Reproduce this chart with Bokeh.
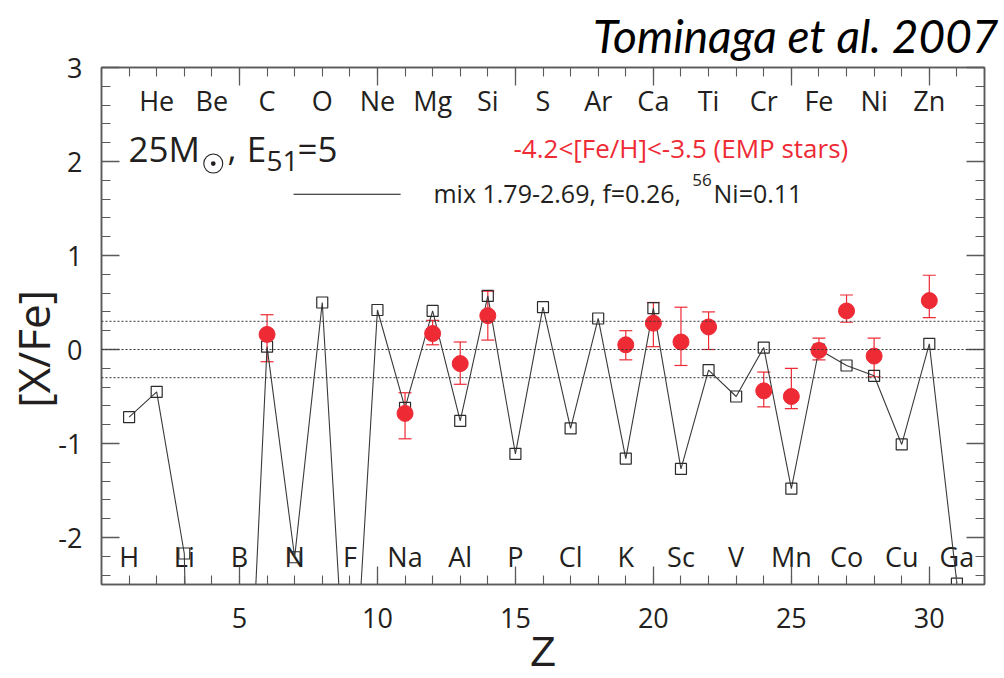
import numpy as np
from bokeh.plotting import figure
from bokeh.models import (ColumnDataSource, Range1d, LinearAxis, FixedTicker,
                          Span, Whisker, TeeHead, Label, Title)
from bokeh.embed import file_html
from bokeh.resources import INLINE

# ---- data -------------------------------------------------------------
symbols = ["H", "He", "Li", "Be", "B", "C", "N", "O", "F", "Ne", "Na", "Mg",
           "Al", "Si", "P", "S", "Cl", "Ar", "K", "Ca", "Sc", "Ti", "V", "Cr",
           "Mn", "Fe", "Co", "Ni", "Cu", "Zn", "Ga"]
atomic_z = list(range(1, 32))

# model yields [X/Fe] (mix 1.79-2.69, f=0.26, 56Ni=0.11)
model_xfe = [-0.72, -0.45, -2.17, -15.0, -6.2, 0.03, -2.21, 0.50, -4.5, 0.42,
             -0.62, 0.41, -0.76, 0.57, -1.11, 0.45, -0.84, 0.33, -1.16, 0.44,
             -1.27, -0.22, -0.50, 0.02, -1.48, 0.00, -0.17, -0.28, -1.01, 0.06,
             -2.49]

# EMP stars, -4.2 < [Fe/H] < -3.5
star_z = [6, 11, 12, 13, 14, 19, 20, 21, 22, 24, 25, 26, 27, 28, 30]
star_xfe = [0.16, -0.68, 0.17, -0.15, 0.36, 0.05, 0.28, 0.08, 0.24, -0.44,
            -0.50, -0.01, 0.41, -0.07, 0.52]
star_hi = [0.37, -0.46, 0.31, 0.08, 0.62, 0.20, 0.50, 0.45, 0.40, -0.24,
           -0.20, 0.12, 0.58, 0.12, 0.79]
star_lo = [-0.13, -0.95, 0.05, -0.37, 0.10, -0.11, 0.03, -0.17, 0.00, -0.61,
           -0.63, -0.11, 0.29, -0.29, 0.34]

x_ticks = [5, 10, 15, 20, 25, 30]
y_ticks = [-2, -1, 0, 1, 2, 3]
ref_levels = [-0.3, 0.0, 0.3]

# ---- styling ----------------------------------------------------------
INK = "#231f20"
RED = "#ee2a35"
AXIS = "#5a5a5a"
FONT = "Open Sans"
NBSP = "\u00a0"

p = figure(width=1004, height=678,
           x_range=Range1d(0, 32), y_range=Range1d(-2.5, 3),
           output_backend="svg", toolbar_location=None,
           min_border_left=101, min_border_right=20,
           min_border_top=66, min_border_bottom=94)
p.grid.visible = False
p.outline_line_color = AXIS
p.outline_line_width = 1.5
p.background_fill_color = "white"
p.border_fill_color = "white"

xt = FixedTicker(ticks=x_ticks, minor_ticks=list(range(0, 33)))
yt = FixedTicker(ticks=y_ticks,
                 minor_ticks=[round(v, 1) for v in np.arange(-2.4, 3.01, 0.2)])


def style_axis(ax, show_labels):
    ax.axis_line_color = AXIS
    ax.axis_line_width = 1.5
    ax.major_tick_line_color = AXIS
    ax.minor_tick_line_color = AXIS
    ax.major_tick_line_width = 1.3
    ax.minor_tick_line_width = 1.1
    ax.major_tick_out = 0
    ax.minor_tick_out = 0
    ax.major_tick_in = 18
    ax.minor_tick_in = 9
    ax.major_label_text_font = FONT
    if show_labels:
        ax.major_label_text_color = INK
        ax.major_label_text_font_size = "27px"
    else:
        ax.major_label_text_color = None
        ax.major_label_text_font_size = "1px"
        ax.major_label_standoff = 0


xax = p.xaxis[0]
yax = p.yaxis[0]
xax.ticker = xt
yax.ticker = yt
style_axis(xax, True)
style_axis(yax, True)
xax.major_label_standoff = 23
yax.major_label_standoff = 19
yax.major_label_overrides = {t: str(t) for t in y_ticks}

# axis titles
xax.axis_label = "Z"
xax.axis_label_text_font = "Liberation Sans"
xax.axis_label_text_font_style = "normal"
xax.axis_label_text_font_size = "42px"
xax.axis_label_text_color = INK
xax.axis_label_standoff = -3
# trailing no-break spaces nudge the rotated title below the frame centre
yax.axis_label = "[X/Fe]" + NBSP * 4
yax.axis_label_text_font = FONT
yax.axis_label_text_font_style = "normal"
yax.axis_label_text_font_size = "44px"
yax.axis_label_text_color = INK
yax.axis_label_standoff = -8

top_ax = LinearAxis(ticker=xt)
right_ax = LinearAxis(ticker=yt)
style_axis(top_ax, False)
style_axis(right_ax, False)
p.add_layout(top_ax, "above")
p.add_layout(right_ax, "right")

# citation
p.add_layout(Title(text="Tominaga et al. 2007", align="right", offset=-14,
                   standoff=10, text_font="Lato", text_font_style="italic",
                   text_font_size="46px", text_color="#000000"), "above")

# reference levels
for lvl in ref_levels:
    p.add_layout(Span(location=lvl, dimension="width", line_color="#333333",
                      line_width=1, line_dash="2 2"))

# element symbols: even Z along the top, odd Z along the bottom
top_src = ColumnDataSource(dict(
    x=[z for z in atomic_z if z % 2 == 0],
    t=[s for z, s in zip(atomic_z, symbols) if z % 2 == 0]))
bot_src = ColumnDataSource(dict(
    x=[z for z in atomic_z if z % 2 == 1],
    t=[s for z, s in zip(atomic_z, symbols) if z % 2 == 1]))
for src, yy in ((top_src, 2.647), (bot_src, -2.203)):
    p.text(x="x", y=yy, text="t", source=src, text_align="center",
           text_baseline="alphabetic", text_font_size="27px",
           text_font={"value": FONT}, text_color=INK)

# model line with open squares
p.line(atomic_z, model_xfe, line_color="#3a3a3a", line_width=1.1)
p.scatter(atomic_z, model_xfe, marker="square", size=11, fill_color=None,
          line_color="#2b2b2b", line_width=1.2)

# stars with error bars
star_src = ColumnDataSource(dict(z=star_z, v=star_xfe, hi=star_hi, lo=star_lo))
p.add_layout(Whisker(source=star_src, base="z", upper="hi", lower="lo",
                     line_color=RED, line_width=1.2,
                     upper_head=TeeHead(size=13, line_color=RED, line_width=1.2),
                     lower_head=TeeHead(size=13, line_color=RED, line_width=1.2)))
p.scatter("z", "v", source=star_src, marker="circle", size=16,
          fill_color=RED, line_color=RED)

# ---- annotations ------------------------------------------------------
def label(x, y, text, size, color=INK, align="left", baseline="alphabetic"):
    p.add_layout(Label(x=x, y=y, text=text, text_font=FONT,
                       text_font_size=size, text_color=color,
                       text_align=align, text_baseline=baseline))


# model parameters: 25 M_sun, E_51 = 5
label(0.98, 2.133, "25M", "35px")
p.scatter([4.05], [1.978], marker="circle_dot", size=19, fill_color=None,
          line_color=INK, line_width=1.1)
label(4.57, 2.133, ",", "35px")
label(5.26, 2.133, "E", "35px")
label(5.98, 2.005, "51", "28px")
label(7.10, 2.133, "=5", "35px")

# data description
label(14.93, 2.147, "-4.2<[Fe/H]<-3.5 (EMP stars)", "26px", color=RED)

# legend entry for the model line
p.line([6.96, 10.84], [1.652, 1.652], line_color="#111111", line_width=1.1)
label(12.03, 1.665, "mix 1.79-2.69, f=0.26,", "25px")
label(22.11, 1.80, "56", "17px", align="right")
label(22.18, 1.665, "Ni=0.11", "25px")

open("out.html", "w").write(file_html(p, INLINE))
